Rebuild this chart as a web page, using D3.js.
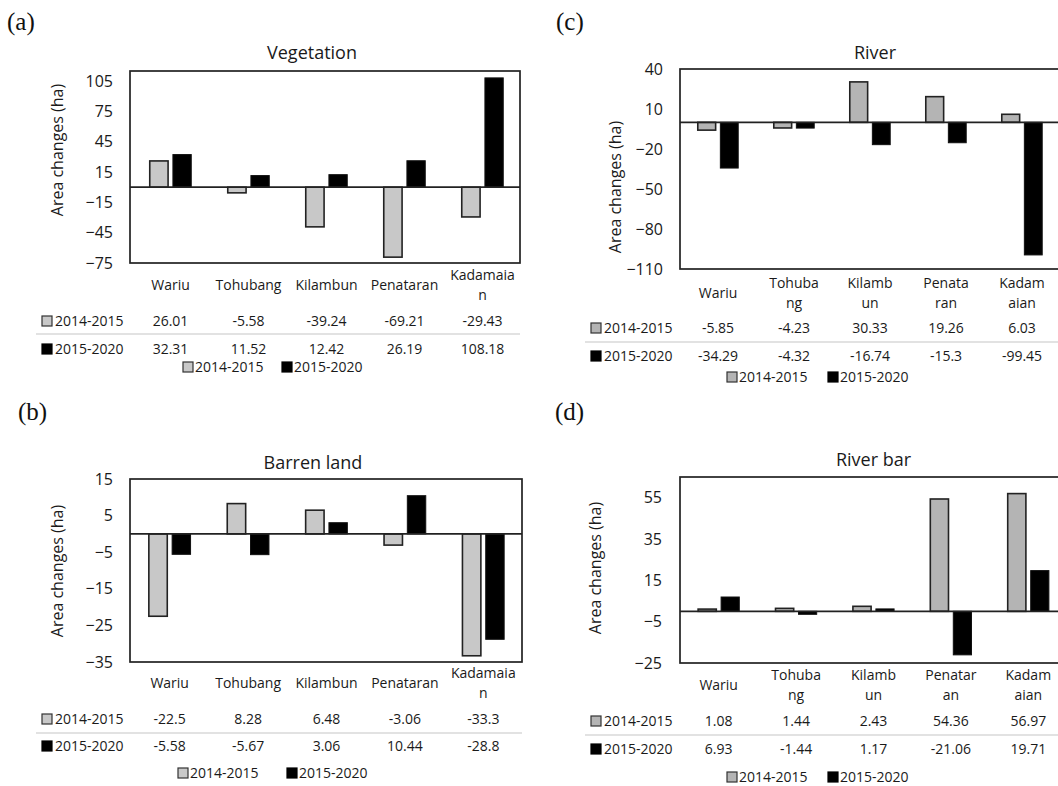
<!DOCTYPE html>
<html>
<head>
<meta charset="utf-8">
<script src="https://cdn.jsdelivr.net/npm/d3@7"></script>
<style>
  body { margin: 0; background: #fff; }
  text { font-family: "Open Sans", sans-serif; fill: #1a1a1a; }
  .panel-letter { font-family: "Liberation Serif", "Times New Roman", serif; font-size: 25px; fill: #111; }
</style>
</head>
<body>
<div id="chart"></div>
<script>
// data
var villages = ["Wariu", "Tohubang", "Kilambun", "Penataran", "Kadamaian"];
var seriesNames = ["2014-2015", "2015-2020"];

var vegetation1415 = [26.01, -5.58, -39.24, -69.21, -29.43];
var vegetation1520 = [32.31, 11.52, 12.42, 26.19, 108.18];
var barren1415 = [-22.5, 8.28, 6.48, -3.06, -33.3];
var barren1520 = [-5.58, -5.67, 3.06, 10.44, -28.8];
var river1415 = [-5.85, -4.23, 30.33, 19.26, 6.03];
var river1520 = [-34.29, -4.32, -16.74, -15.3, -99.45];
var riverBar1415 = [1.08, 1.44, 2.43, 54.36, 56.97];
var riverBar1520 = [6.93, -1.44, 1.17, -21.06, 19.71];

// wrapped category labels as they appear in each panel
var labelsWide = [["Wariu"], ["Tohubang"], ["Kilambun"], ["Penataran"], ["Kadamaia", "n"]];
var labelsRiver = [["Wariu"], ["Tohuba", "ng"], ["Kilamb", "un"], ["Penata", "ran"], ["Kadam", "aian"]];
var labelsRiverBar = [["Wariu"], ["Tohuba", "ng"], ["Kilamb", "un"], ["Penatar", "an"], ["Kadam", "aian"]];

var svg = d3.select("#chart").append("svg")
  .attr("width", 1058)
  .attr("height", 786);

function drawPanel(p) {
  var g = svg.append("g");

  g.append("text").attr("class", "panel-letter")
    .attr("x", p.letterX).attr("y", p.letterY).text(p.letter);

  g.append("text")
    .attr("x", (p.x0 + p.x1) / 2 + p.titleDx)
    .attr("y", p.titleY)
    .attr("dy", "0.35em")
    .attr("text-anchor", "middle")
    .style("font-size", "18px")
    .text(p.title);

  var x = d3.scaleBand().domain(villages).range([p.x0 + p.bandShift, p.x1 + p.bandShift]);
  var y = d3.scaleLinear().domain(p.domain).range([p.y1, p.y0]);
  var step = x.bandwidth();
  var bw = step * 0.235, gap = step * 0.062;

  var rows = villages.map(function(v, i) {
    return { v: v, a: p.s1[i], b: p.s2[i], lab: p.labels[i] };
  });

  // plot frame
  g.append("rect")
    .attr("x", p.x0).attr("y", p.y0)
    .attr("width", p.x1 - p.x0).attr("height", p.y1 - p.y0)
    .attr("fill", "none").attr("stroke", "#222").attr("stroke-width", 1.7);

  // y axis labels only
  var yAxis = d3.axisLeft(y).tickValues(p.ticks).tickSize(0).tickPadding(0);
  var ya = g.append("g").attr("transform", "translate(" + p.tickX + ",0)").call(yAxis);
  ya.select(".domain").remove();
  ya.selectAll("text").style("font-size", "16px").style("font-family", "Open Sans, sans-serif").attr("fill", "#1a1a1a");

  g.append("text")
    .attr("transform", "translate(" + p.yLabX + "," + p.yLabY + ") rotate(-90)")
    .attr("text-anchor", "middle")
    .attr("dy", "0.35em")
    .style("font-size", "16px")
    .text("Area changes (ha)");

  // bars
  var grp = g.selectAll(".grp").data(rows).enter().append("g");
  grp.append("rect")
    .attr("x", d => x(d.v) + step / 2 - gap / 2 - bw)
    .attr("y", d => y(Math.max(0, d.a)))
    .attr("width", bw)
    .attr("height", d => Math.abs(y(d.a) - y(0)))
    .attr("fill", p.gray).attr("stroke", "#222").attr("stroke-width", 1.6);
  grp.append("rect")
    .attr("x", d => x(d.v) + step / 2 + gap / 2)
    .attr("y", d => y(Math.max(0, d.b)))
    .attr("width", bw)
    .attr("height", d => Math.abs(y(d.b) - y(0)))
    .attr("fill", "#000").attr("stroke", "#111").attr("stroke-width", 1);

  // zero line
  g.append("line")
    .attr("x1", p.x0).attr("x2", p.x1)
    .attr("y1", y(0)).attr("y2", y(0))
    .attr("stroke", "#222").attr("stroke-width", 1.7);

  // category labels
  grp.each(function(d) {
    var n = d.lab.length;
    d3.select(this).selectAll(".cat").data(d.lab).enter().append("text")
      .attr("x", x(d.v) + step / 2)
      .attr("y", (t, k) => p.catY + (k - (n - 1) / 2) * 20)
      .attr("dy", "0.35em")
      .attr("text-anchor", "middle")
      .style("font-size", "14px")
      .text(t => t);
  });

  // data table
  var tableRows = [
    { name: seriesNames[0], vals: p.s1, y: p.rowY[0], fill: p.gray, stroke: "#333" },
    { name: seriesNames[1], vals: p.s2, y: p.rowY[1], fill: "#000", stroke: "#000" }
  ];
  g.append("line")
    .attr("x1", p.sepX).attr("x2", p.x1)
    .attr("y1", p.sepY).attr("y2", p.sepY)
    .attr("stroke", "#d9d9d9").attr("stroke-width", 1.5);
  tableRows.forEach(function(r) {
    g.append("rect")
      .attr("x", p.keyX).attr("y", r.y - 5).attr("width", 10).attr("height", 10)
      .attr("fill", r.fill).attr("stroke", r.stroke).attr("stroke-width", 1.2);
    g.append("text").attr("x", p.keyX + 13).attr("y", r.y).attr("dy", "0.35em")
      .style("font-size", "14px").text(r.name);
    villages.forEach(function(v, i) {
      g.append("text")
        .attr("x", x(v) + step / 2).attr("y", r.y).attr("dy", "0.35em")
        .attr("text-anchor", "middle")
        .style("font-size", "14px")
        .text(String(r.vals[i]));
    });
  });

  // legend
  var leg = [
    { name: seriesNames[0], x: p.legX[0], fill: p.gray, stroke: "#333" },
    { name: seriesNames[1], x: p.legX[1], fill: "#000", stroke: "#000" }
  ];
  leg.forEach(function(l) {
    g.append("rect")
      .attr("x", l.x).attr("y", p.legY - 5).attr("width", 10).attr("height", 10)
      .attr("fill", l.fill).attr("stroke", l.stroke).attr("stroke-width", 1.2);
    g.append("text").attr("x", l.x + 12).attr("y", p.legY).attr("dy", "0.35em")
      .style("font-size", "14px").text(l.name);
  });
}

drawPanel({
  letter: "(a)", letterX: 7, letterY: 30, title: "Vegetation", titleY: 53, titleDx: -13,
  x0: 130, x1: 520, bandShift: 1.5, y0: 71, y1: 263, domain: [-75, 115], ticks: [-75, -45, -15, 15, 45, 75, 105],
  s1: vegetation1415, s2: vegetation1520, labels: labelsWide, gray: "#c8c8c8",
  tickX: 113, yLabX: 57, yLabY: 150, catY: 285, rowY: [321, 349], sepX: 36, sepY: 334,
  keyX: 42, legX: [183, 282], legY: 367
});

drawPanel({
  letter: "(c)", letterX: 556, letterY: 30, title: "River", titleY: 53, titleDx: 5,
  x0: 680, x1: 1060, bandShift: 0, y0: 69, y1: 269, domain: [-110, 40], ticks: [-110, -80, -50, -20, 10, 40],
  s1: river1415, s2: river1520, labels: labelsRiver, gray: "#b4b4b4",
  tickX: 663, yLabX: 615, yLabY: 187, catY: 293, rowY: [328, 356], sepX: 585, sepY: 342,
  keyX: 591, legX: [727, 828], legY: 377
});

drawPanel({
  letter: "(b)", letterX: 18, letterY: 420, title: "Barren land", titleY: 463, titleDx: -13,
  x0: 130, x1: 522, bandShift: 0.5, y0: 479, y1: 662, domain: [-35, 15], ticks: [-35, -25, -15, -5, 5, 15],
  s1: barren1415, s2: barren1520, labels: labelsWide, gray: "#c8c8c8",
  tickX: 113, yLabX: 57, yLabY: 571, catY: 683, rowY: [719, 746], sepX: 36, sepY: 733,
  keyX: 42, legX: [178, 287], legY: 773
});

drawPanel({
  letter: "(d)", letterX: 555, letterY: 420, title: "River bar", titleY: 460, titleDx: 0,
  x0: 680, x1: 1067, bandShift: 0, y0: 477, y1: 663, domain: [-25, 65], ticks: [-25, -5, 15, 35, 55],
  s1: riverBar1415, s2: riverBar1520, labels: labelsRiverBar, gray: "#b4b4b4",
  tickX: 662, yLabX: 595, yLabY: 568, catY: 685, rowY: [721, 749], sepX: 585, sepY: 735,
  keyX: 591, legX: [727, 828], legY: 777
});
</script>
</body>
</html>
